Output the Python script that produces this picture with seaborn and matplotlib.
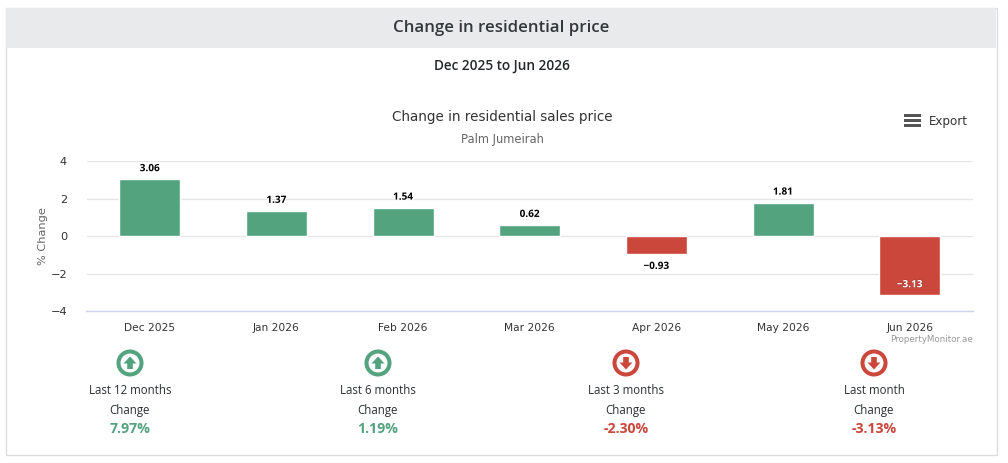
import matplotlib
matplotlib.use('Agg')
import matplotlib.pyplot as plt
import matplotlib.patheffects as pe
from matplotlib.patches import Rectangle, Circle, Polygon
import pandas as pd
import seaborn as sns

months = ['Dec 2025', 'Jan 2026', 'Feb 2026', 'Mar 2026', 'Apr 2026', 'May 2026', 'Jun 2026']
changes = [3.06, 1.37, 1.54, 0.62, -0.93, 1.81, -3.13]
y_ticks = [-4, -2, 0, 2, 4]

stat_names = ['Last 12 months', 'Last 6 months', 'Last 3 months', 'Last month']
stat_values = [7.97, 1.19, -2.30, -3.13]
stat_centers = [130, 378, 626, 874]

GREEN = '#52a37e'
RED = '#cb463b'
W, H = 1008, 463

sns.set_theme(style='white')
plt.rcParams['font.family'] = ['Open Sans', 'DejaVu Sans']

df = pd.DataFrame({'month': months, 'change': changes})
df['dir'] = ['up' if c >= 0 else 'down' for c in changes]

fig = plt.figure(figsize=(W / 100, H / 100), dpi=100, facecolor='white')

# page furniture lives on a pixel-coordinate overlay
bg = fig.add_axes([0, 0, 1, 1], zorder=0)
bg.set_xlim(0, W)
bg.set_ylim(H, 0)
bg.axis('off')
bg.add_patch(Rectangle((5.5, 7.5), 991, 447.5, fc='white', ec='#dcdcdc', lw=1))
bg.add_patch(Rectangle((6, 8), 990, 40, fc='#e9eaeb', ec='none'))
bg.text(501.5, 28, 'Change in residential price', ha='center', va='center',
        fontsize=12.2, fontweight='semibold', color='#33383c')
bg.text(501.5, 66, 'Dec 2025 to Jun 2026', ha='center', va='center',
        fontsize=9.8, fontweight='semibold', color='#25282b')

# chart titles
LABEL_FONT = ['DejaVu Sans']
bg.text(502, 117.5, 'Change in residential sales price', ha='center', va='center',
        fontsize=9.75, color='#333333', family=LABEL_FONT)
bg.text(502, 139, 'Palm Jumeirah', ha='center', va='center',
        fontsize=8.3, color='#666666', family=LABEL_FONT)
bg.text(43.5, 236, '% Change', ha='center', va='center', rotation=90,
        fontsize=8.2, color='#666666', family=LABEL_FONT)

# export button
for yy in (113.5, 118.5, 123.5):
    bg.add_patch(Rectangle((903.5, yy), 17, 3, fc='#555555', ec='none'))
bg.text(948, 121, 'Export', ha='center', va='center', fontsize=8.6,
        color='#333333', family=LABEL_FONT)
bg.text(973, 340, 'PropertyMonitor.ae', ha='right', va='center', fontsize=6.3,
        color='#999999', family=LABEL_FONT)

# main bars
ax = fig.add_axes([86.5 / W, 1 - 311.45 / H, 886.5 / W, 150 / H], zorder=1)
ax.patch.set_alpha(0)
sns.barplot(data=df, x='month', y='change', hue='dir', dodge=False, width=0.482,
            palette={'up': GREEN, 'down': RED}, legend=False, saturation=1,
            edgecolor='white', linewidth=1, ax=ax, zorder=3)
ax.set_ylim(-4, 4)
ax.set_xlim(-0.5, 6.5)
ax.set_yticks(y_ticks)
ax.set_xlabel('')
ax.set_ylabel('')
ax.grid(axis='y', color='#e6e6e6', lw=1, zorder=0)
ax.grid(axis='x', visible=False)
ax.set_axisbelow(True)
for side in ('top', 'left', 'right'):
    ax.spines[side].set_visible(False)
ax.spines['bottom'].set_color('#ccd6eb')
ax.spines['bottom'].set_linewidth(1)
ax.tick_params(axis='x', length=0, pad=8, labelsize=7.7, labelcolor='#333333')
ax.tick_params(axis='y', length=0, pad=14, labelsize=8.2, labelcolor='#333333')
for lab in ax.get_xticklabels() + ax.get_yticklabels():
    lab.set_family(LABEL_FONT)

for i, v in enumerate(changes):
    txt = f'{v:.2f}'.replace('-', '\u2212')
    if v == min(changes):
        # label sits inside the longest negative bar
        ax.annotate(txt, (i, v), xytext=(0, 7.5), textcoords='offset points',
                    ha='center', va='center', fontsize=7.2, fontweight='bold', color='white',
                    family=['Open Sans'], zorder=5,
                    path_effects=[pe.withStroke(linewidth=0.8, foreground='#a83a31')])
    else:
        off = 7.5 if v >= 0 else -9
        ax.annotate(txt, (i, v), xytext=(0, off), textcoords='offset points',
                    ha='center', va='center', fontsize=7.2, fontweight='bold', color='black',
                    family=['Open Sans'], zorder=5,
                    path_effects=[pe.withStroke(linewidth=1.6, foreground='white')])

# summary row under the chart
for cx, name, val in zip(stat_centers, stat_names, stat_values):
    col = GREEN if val >= 0 else RED
    cy = 363
    bg.add_patch(Circle((cx, cy), 11.5, fc='white', ec=col, lw=2.9))
    s = -1 if val >= 0 else 1
    # block arrow, pointing up or down
    bg.add_patch(Polygon([(cx - 6.5, cy - s * 0.5), (cx, cy + s * 6.5), (cx + 6.5, cy - s * 0.5),
                          (cx + 2.8, cy - s * 0.5), (cx + 2.8, cy - s * 6),
                          (cx - 2.8, cy - s * 6), (cx - 2.8, cy - s * 0.5)], fc=col, ec='none'))
    bg.text(cx, 390.5, name, ha='center', va='center', fontsize=8.3, color='#2b2f33')
    bg.text(cx, 410.5, 'Change', ha='center', va='center', fontsize=8.3, color='#2b2f33')
    bg.text(cx, 429, f'{val:.2f}%', ha='center', va='center', fontsize=10.2,
            fontweight='bold', color=col)

fig.savefig('out.png', dpi=100)
